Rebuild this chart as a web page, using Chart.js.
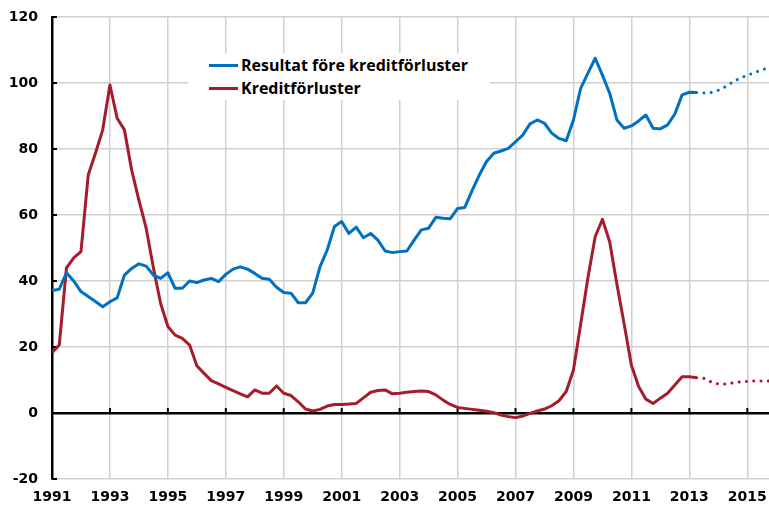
<!DOCTYPE html>
<html>
<head>
<meta charset="utf-8">
<script src="https://cdn.jsdelivr.net/npm/chart.js@4.4.1/dist/chart.umd.min.js"></script>
<style>
  body { margin: 0; background: #fff; }
  #wrap { position: relative; width: 769px; height: 511px; }
  #legend { position: absolute; left: 188px; top: 53px; width: 302px; height: 47px; background: #fff;
            font-family: 'Open Sans', Lato, sans-serif; font-weight: bold; font-size: 16px; color: #000; }
  .row { position: absolute; left: 0; height: 22px; line-height: 22px; white-space: nowrap; }
  .swatch { position: absolute; left: 21px; top: 10px; width: 29px; height: 3px; }
  .label { position: absolute; left: 53px; top: 0; }
</style>
</head>
<body>
<div id="wrap">
  <canvas id="bankChart"></canvas>
  <div id="legend">
    <div class="row" style="top:1px"><span class="swatch" style="background:#0070C0"></span><span class="label">Resultat före kreditförluster</span></div>
    <div class="row" style="top:24px"><span class="swatch" style="background:#A61C2A"></span><span class="label">Kreditförluster</span></div>
  </div>
</div>
<script>
// quarterly data, 1991 Q1 - 2015 Q4 (from 2013 Q2 forecast, dotted)
const startYear = 1991;
const forecastFrom = 89; // index where dotted part starts

const resultat = [
  37.1, 37.5, 42.5, 40, 36.8, 35.3, 33.8, 32.2, 33.7, 34.9,
  41.8, 43.8, 45.2, 44.5, 41.8, 40.8, 42.5, 37.8, 37.8, 40,
  39.5, 40.3, 40.8, 39.8, 42.0, 43.6, 44.3, 43.6, 42.3, 40.8,
  40.5, 38.1, 36.5, 36.3, 33.4, 33.4, 36.3, 44.3, 49.4, 56.5,
  58, 54.4, 56.3, 53.1, 54.4, 52.4, 49.1, 48.6, 48.9, 49.1,
  52.4, 55.5, 56, 59.3, 59, 58.9, 62, 62.3, 67.4, 72.1,
  76.2, 78.7, 79.4, 80.2, 82.2, 84.2, 87.6, 88.8, 87.8, 84.8,
  83.2, 82.5, 88.8, 98.4, 103, 107.5, 102.4, 96.9, 88.8, 86.3,
  87, 88.5, 90.3, 86.3, 86.1, 87.3, 90.6, 96.4, 97.2, 97.1,
  97.0, 97.1, 97.8, 98.9, 100.3, 101.5, 102.3, 103.2, 103.9, 104.8
];

const kreditforluster = [
  18.3, 20.6, 44, 47, 48.9, 72.1, 78.7, 85.8, 99.4, 89.3,
  85.8, 73.6, 64.5, 56, 44, 33.2, 26.2, 23.6, 22.6, 20.6,
  14.3, 12, 9.8, 8.8, 7.8, 6.8, 5.8, 4.9, 7.0, 6.0,
  6.0, 8.2, 6.0, 5.3, 3.4, 1.2, 0.6, 1.1, 2.1, 2.6,
  2.6, 2.7, 2.9, 4.6, 6.3, 6.8, 7.0, 5.8, 6.0, 6.3,
  6.5, 6.7, 6.5, 5.5, 3.9, 2.6, 1.7, 1.4, 1.1, 0.8,
  0.5, 0.1, -0.6, -1.1, -1.4, -0.9, -0.1, 0.6, 1.2, 2.2,
  3.7, 6.5, 13, 27, 41, 53.4, 58.7, 51.9, 39, 27,
  14.5, 8.0, 4.2, 2.9, 4.5, 6.0, 8.5, 11, 11, 10.7,
  10.5, 9.4, 8.8, 8.8, 9.1, 9.4, 9.6, 9.7, 9.7, 9.7
];

const yearTicks = [1991, 1993, 1995, 1997, 1999, 2001, 2003, 2005, 2007, 2009, 2011, 2013, 2015];
const valueTicks = [-20, 0, 20, 40, 60, 80, 100, 120];

const quarters = resultat.map((_, i) => startYear + i / 4);
const toPoints = arr => arr.map((v, i) => ({ x: quarters[i], y: v }));

const dotted = {
  borderDash: ctx => ctx.p0DataIndex >= forecastFrom ? [0.1, 7.2] : undefined,
  borderCapStyle: ctx => ctx.p0DataIndex >= forecastFrom ? 'round' : undefined
};

// small inward tick marks on the y axis and on the zero line
const axisMarks = {
  id: 'axisMarks',
  beforeDatasetsDraw(chart) {
    const { ctx, scales: { x, y }, chartArea } = chart;
    ctx.save();
    ctx.strokeStyle = '#000';
    ctx.lineWidth = 2;
    const y0 = y.getPixelForValue(0);
    yearTicks.slice(1).forEach(v => {
      const px = x.getPixelForValue(v);
      ctx.beginPath(); ctx.moveTo(px, y0); ctx.lineTo(px, y0 - 5); ctx.stroke();
    });
    valueTicks.forEach(v => {
      const py = y.getPixelForValue(v);
      ctx.beginPath(); ctx.moveTo(chartArea.left, py); ctx.lineTo(chartArea.left + 5, py); ctx.stroke();
    });
    ctx.restore();
  }
};

const tickFont = { family: 'DejaVu Sans', size: 14, weight: 'bold' };

new Chart(document.getElementById('bankChart'), {
  type: 'line',
  data: {
    datasets: [{
      label: 'Resultat före kreditförluster',
      data: toPoints(resultat),
      borderColor: '#0070C0',
      borderWidth: 3,
      borderJoinStyle: 'round',
      pointRadius: 0,
      tension: 0,
      segment: dotted
    }, {
      label: 'Kreditförluster',
      data: toPoints(kreditforluster),
      borderColor: '#A61C2A',
      borderWidth: 3,
      borderJoinStyle: 'round',
      pointRadius: 0,
      tension: 0,
      segment: dotted
    }]
  },
  options: {
    responsive: true,
    maintainAspectRatio: false,
    animation: false,
    layout: { padding: { top: 17, right: 0, bottom: 2, left: 0 } },
    scales: {
      x: {
        type: 'linear',
        min: 1991,
        max: 2015.75,
        afterBuildTicks: s => { s.ticks = yearTicks.map(v => ({ value: v })); },
        afterFit: s => { s.height = 30; s.paddingLeft = 0; s.paddingRight = 0; },
        ticks: { color: '#000', font: tickFont, padding: 10, maxRotation: 0, callback: v => String(v) },
        grid: { color: '#CFCFCF', lineWidth: 1.5, drawTicks: false },
        border: { display: false }
      },
      y: {
        min: -20,
        max: 120,
        afterBuildTicks: s => { s.ticks = valueTicks.map(v => ({ value: v })); },
        afterFit: s => { s.width = 52; s.paddingTop = 0; s.paddingBottom = 0; },
        ticks: { color: '#000', font: tickFont, padding: 14 },
        grid: {
          color: c => c.tick && c.tick.value === 0 ? '#000' : '#CFCFCF',
          lineWidth: c => c.tick && c.tick.value === 0 ? 2.5 : 1.5,
          drawTicks: false
        },
        border: { color: '#000', width: 2.5 }
      }
    },
    plugins: {
      legend: { display: false },
      tooltip: { enabled: false }
    }
  },
  plugins: [axisMarks]
});
</script>
</body>
</html>
